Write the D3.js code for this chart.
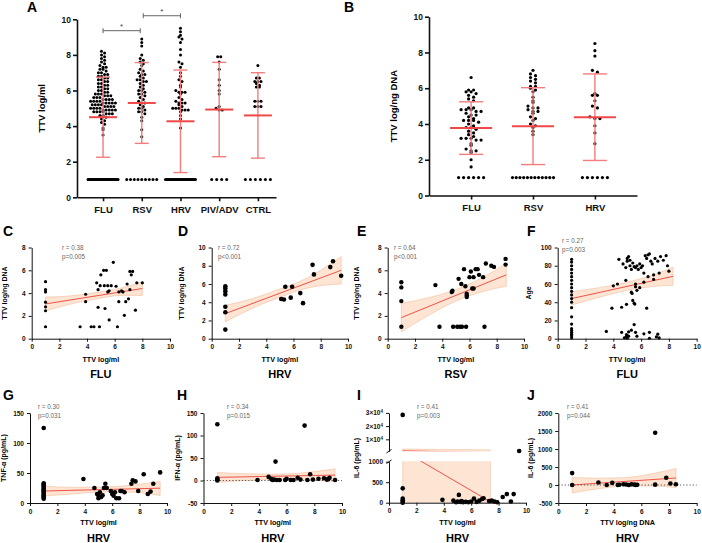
<!DOCTYPE html>
<html>
<head>
<meta charset="utf-8">
<script src="https://cdn.jsdelivr.net/npm/d3@7"></script>
<style>
body { margin: 0; background: #fff; }
svg { font-family: 'Liberation Sans', Arial, sans-serif; }
</style>
</head>
<body>
<div id="chart"></div>
<script>
// ---------- A: TTV log/ml by group ----------
var catsA = ['FLU', 'RSV', 'HRV', 'PIV/ADV', 'CTRL'];
var fluA = [8.2, 8.1, 8.0, 7.9, 7.8, 7.7, 7.6, 7.5, 7.4, 7.3, 7.3, 7.2, 7.2, 7.1, 7.0, 7.0, 6.9, 6.9, 6.8, 6.8, 6.7, 6.7, 6.6, 6.6, 6.5, 6.5, 6.4, 6.4, 6.3, 6.3, 6.2, 6.2, 6.1, 6.1, 6.0, 6.0, 5.9, 5.9, 5.8, 5.8, 5.8, 5.7, 5.7, 5.7, 5.6, 5.6, 5.6, 5.5, 5.5, 5.5, 5.5, 5.4, 5.4, 5.4, 5.4, 5.3, 5.3, 5.3, 5.3, 5.3, 5.2, 5.2, 5.2, 5.2, 5.1, 5.1, 5.1, 5.1, 5.0, 5.0, 5.0, 5.0, 4.9, 4.9, 4.9, 4.9, 4.9, 4.8, 4.8, 4.8, 4.8, 4.7, 4.7, 4.7, 4.6, 4.6, 4.5, 4.4, 4.3, 4.2, 4.1, 3.9, 3.8, 3.5];
var rsvA = [8.9, 8.7, 8.5, 8.0, 7.8, 7.7, 7.6, 7.5, 7.4, 7.2, 7.1, 7.0, 6.9, 6.9, 6.8, 6.7, 6.6, 6.6, 6.5, 6.5, 6.4, 6.3, 6.2, 6.1, 6.0, 6.0, 5.9, 5.8, 5.8, 5.7, 5.6, 5.5, 5.4, 5.3, 5.3, 5.2, 5.1, 5.0, 5.0, 4.9, 4.8, 4.8, 4.7, 4.5, 4.3, 3.8, 3.4];
var hrvA = [9.5, 9.3, 9.1, 9.0, 8.9, 8.7, 8.3, 8.0, 7.6, 7.5, 7.3, 7.0, 6.8, 6.6, 6.5, 6.3, 6.2, 6.0, 5.9, 5.9, 5.9, 5.8, 5.6, 5.5, 5.4, 5.3, 5.3, 5.3, 5.2, 5.1, 5.0, 5.0, 5.0, 4.9, 4.9, 4.9, 4.8, 4.6, 4.4, 3.9];
var pivA = [7.9, 7.9, 7.6, 7.2, 6.6, 6.3, 6.0, 5.8, 5.1, 5.0, 4.9, 4.9];
var ctrlA = [7.4, 6.7, 6.7, 6.5, 6.5, 6.5, 6.4, 6.3, 6.2, 6.2, 5.4, 5.4, 5.4, 5.1, 5.1, 5.1];
// number of samples at the detection floor (plotted at 1)
var lodA = [40, 9, 30, 4, 6];
var meanA = [4.5, 5.3, 4.27, 4.93, 4.6];
var sdA = [2.25, 2.27, 2.88, 2.65, 2.4];
var sigA = [['FLU', 'RSV', 9.36], ['RSV', 'HRV', 10.2]];

// ---------- B: TTV log/ng DNA by group ----------
var catsB = ['FLU', 'RSV', 'HRV'];
var fluB = [6.6, 5.9, 5.9, 5.8, 5.8, 5.7, 5.6, 5.5, 5.4, 5.3, 4.9, 4.9, 4.8, 4.8, 4.8, 4.7, 4.7, 4.6, 4.5, 4.5, 4.4, 4.3, 4.2, 4.2, 4.2, 4.1, 4.0, 3.9, 3.8, 3.8, 3.7, 3.6, 3.5, 3.4, 3.3, 3.2, 3.2, 3.2, 3.1, 3.1, 2.9, 2.8, 2.6, 2.5, 2.5, 2.4, 2.0, 1.6];
var rsvB = [7.0, 6.8, 6.7, 6.6, 6.5, 6.4, 6.3, 6.1, 6.1, 6.0, 5.9, 5.8, 5.5, 5.3, 5.2, 5.0, 4.9, 4.9, 4.8, 4.7, 4.7, 4.6, 4.4, 4.3, 4.2, 4.0, 3.9, 3.8, 3.6, 3.4];
var hrvB = [8.5, 8.1, 7.8, 7.0, 6.9, 5.7, 5.6, 5.6, 5.3, 5.0, 4.9, 4.4, 4.3, 4.3, 3.9, 3.5, 2.9];
var lodB = [6, 12, 6];
var meanB = [3.77, 3.88, 4.38];
var sdB = [1.47, 2.15, 2.42];

// ---------- C-J: correlations [x, y] ----------
var ptsC = [[1, 5.0], [1, 4.3], [1, 4.1], [1, 3.2], [1, 2.8], [1, 2.45], [1, 1.05], [3.5, 1.05], [3.9, 3.25], [3.9, 3.9], [4.3, 1.05], [4.5, 1.05], [4.7, 4.9], [4.8, 2.75], [4.8, 4.3], [4.9, 1.05], [5.0, 5.6], [4.95, 4.65], [5.2, 6.0], [5.25, 4.65], [5.3, 2.65], [5.4, 6.0], [5.5, 4.65], [5.5, 4.1], [5.6, 1.65], [5.6, 4.2], [5.75, 4.65], [5.9, 6.7], [6.2, 1.05], [6.1, 4.6], [6.3, 3.25], [6.3, 4.1], [6.5, 4.2], [6.6, 4.1], [6.7, 2.05], [6.8, 3.25], [6.9, 4.8], [7.0, 3.5], [7.1, 5.9], [7.3, 5.9], [7.2, 5.6], [7.1, 4.3], [7.5, 2.5], [7.6, 4.9], [8.0, 4.9]];
var fitC = [[1, 3.05], [8, 4.4]];
var bandC = [[1, 2.45, 3.65], [2.5, 2.95, 3.72], [4.5, 3.45, 4.02], [6.5, 3.8, 4.45], [8, 3.8, 5.0]];

var ptsD = [[1, 5.75], [1, 5.5], [1, 5.2], [1, 4.85], [1, 3.5], [1, 2.9], [1, 1.0], [5.1, 4.35], [5.3, 4.3], [5.4, 5.7], [5.8, 4.5], [5.9, 5.7], [6.5, 5.0], [6.7, 3.9], [7.4, 8.1], [7.5, 7.05], [8.7, 7.85], [8.9, 8.5], [9.5, 6.9]];
var fitD = [[1, 2.75], [9.5, 7.5]];
var bandD = [[1, 1.85, 3.65], [3, 3.35, 4.4], [5, 4.55, 5.45], [7, 5.55, 6.65], [9.5, 6.0, 9.0]];

var ptsE = [[1, 4.95], [1, 4.5], [1, 3.3], [1, 1.05], [3.5, 4.7], [3.8, 1.05], [4.7, 4.1], [4.75, 4.2], [4.8, 1.05], [5.1, 1.05], [5.2, 5.25], [5.3, 1.05], [5.4, 4.8], [5.45, 1.05], [5.6, 6.1], [5.7, 4.6], [5.75, 1.05], [5.8, 3.65], [5.8, 3.8], [5.8, 3.95], [6.0, 5.4], [6.1, 5.9], [6.2, 4.4], [6.3, 4.4], [6.3, 5.4], [6.45, 6.1], [6.6, 6.1], [6.7, 5.6], [7.0, 5.4], [7.1, 1.05], [7.2, 6.6], [7.6, 6.4], [7.8, 6.3], [8.65, 7.0], [8.65, 6.5]];
var fitE = [[1, 1.85], [8.7, 5.6]];
var bandE = [[1, 0.6, 3.1], [3, 2.05, 3.6], [5, 3.3, 4.3], [7, 4.15, 5.4], [8.7, 4.6, 6.6]];

var ptsF = [[1, 87], [1, 84], [1, 80], [1, 76], [1, 72], [1, 68], [1, 64], [1, 60], [1, 56], [1, 52], [1, 48], [1, 44], [1, 40], [1, 34], [1, 24], [1, 16], [1, 11], [1, 9], [1, 7], [1, 5], [1, 3], [1, 1],
	[4.4, 87], [4.0, 58], [4.3, 60], [4.7, 82], [4.9, 78], [5.0, 85], [5.0, 88], [5.1, 90], [5.2, 86], [5.2, 80], [5.3, 76], [5.4, 83], [5.5, 79], [5.6, 78], [5.7, 80], [5.8, 76], [5.9, 82], [6.0, 78], [6.1, 80], [6.3, 91], [6.4, 88], [6.5, 92], [6.6, 93], [6.7, 85], [6.8, 82], [6.9, 70], [7.0, 88], [7.2, 85], [7.4, 90], [7.6, 86], [7.8, 91], [7.9, 80], [8.0, 74], [6.2, 72], [6.5, 68], [6.9, 65], [7.3, 72], [5.6, 60], [5.6, 57], [5.7, 53], [6.2, 62], [5.9, 56], [4.9, 64],
	[3.9, 33.5], [4.6, 34.5], [4.95, 37.7], [5.4, 42], [5.5, 39], [5.55, 38], [6.4, 33.5], [5.3, 51], [5.35, 49.6], [3.5, 8], [4.6, 7], [4.95, 4.6], [4.95, 2.8], [5.1, 2.8], [5.1, 7.5], [5.3, 9.3], [5.5, 15.5], [5.6, 7], [5.7, 2.8], [6.2, 5.3], [6.6, 7], [6.6, 0.5], [7.1, 2], [7.2, 5], [7.3, 1], [4.8, 1], [5.0, 0.5]];
var fitF = [[1, 44], [8.3, 68.4]];
var bandF = [[1, 37, 51.5], [3, 45.5, 56], [5, 53, 62], [7, 57.5, 70.5], [8.3, 58.5, 78.5]];

var ptsG = [[1, 125], [1, 33], [1, 31], [1, 29], [1, 27], [1, 25], [1, 23], [1, 21], [1, 19], [1, 17], [1, 15], [1, 13], [1, 11], [1, 9], [1, 7], [3.9, 40], [4.7, 25], [4.9, 15], [5.0, 8], [5.0, 12], [5.1, 18], [5.2, 10], [5.3, 13], [5.4, 25], [5.5, 32], [5.6, 25], [5.9, 20], [6.0, 15], [6.1, 12], [6.2, 18], [6.3, 8], [6.5, 8], [6.6, 20], [6.7, 20], [6.9, 18], [7.4, 32], [7.5, 38], [7.7, 36], [7.9, 20], [8.3, 48], [8.6, 15], [8.8, 19], [9.0, 32], [9.5, 51]];
var fitG = [[1, 20], [9.5, 24.7]];
var bandG = [[1, 11.5, 28.5], [3, 15, 26], [5.5, 18.5, 26.5], [7.5, 18, 30], [9.5, 12.5, 36]];

var ptsH = [[1, 125], [1, 5], [1, 2], [1, 0], [3.9, 1], [4.7, 8], [4.9, 3], [5.0, 1], [5.1, 2], [5.2, 42], [5.3, 1], [5.5, 1], [5.9, 1], [6.0, 4], [6.3, 1], [6.5, 1], [6.8, 6], [7.0, 2], [7.3, 122], [7.5, 1], [7.7, 14], [7.9, 2], [8.3, 4], [8.7, 5], [8.9, 2], [9.0, 3], [9.1, 6], [9.5, 1]];
var fitH = [[1, 7], [9.5, 12]];
var bandH = [[1, -4, 18], [3, 0, 15], [5.5, 3, 14], [7.5, 1, 18], [9.5, -2, 26]];

var ptsI = [[1, 28500], [1, 350], [1, 100], [1, 60], [1, 20], [1, 0], [3.9, 70], [4.7, 50], [4.9, 10], [5.0, 30], [5.1, 190], [5.2, 20], [5.3, 40], [5.4, 10], [5.6, 20], [5.8, 10], [6.0, 30], [6.2, 100], [6.4, 20], [6.6, 50], [6.8, 90], [6.9, 110], [7.3, 40], [7.5, 50], [7.7, 30], [7.9, 10], [8.3, 140], [8.6, 210], [8.9, 30], [9.1, 210], [9.5, 1150]];
var fitI = [[1, 1274], [7.4, 22]];
var bandI = [[1, -700, 2600], [7.4, -2000, 2000]];

var ptsJ = [[1, 330], [1, 0], [2.9, 70], [3.5, 0], [3.9, 60], [4.3, 0], [4.4, 5], [4.7, 20], [4.9, 15], [5.1, 0], [5.3, 20], [5.5, 10], [5.6, 0], [5.7, 5], [7.0, 1450], [7.0, 10], [7.8, 200], [8.1, 40], [8.5, 20]];
var fitJ = [[1, 0], [8.5, 195]];
var bandJ = [[1, -220, 210], [3, -100, 190], [5, -20, 210], [7, -30, 330], [8.5, -70, 460]];

var statText = {
	C: ['r = 0.38', 'p=0.005'], D: ['r = 0.72', 'p<0.001'], E: ['r = 0.64', 'p<0.001'], F: ['r = 0.27', 'p=0.003'],
	G: ['r = 0.30', 'p=0.031'], H: ['r = 0.34', 'p=0.015'], I: ['r = 0.41', 'p=0.003'], J: ['r = 0.41', 'p=0.044']
};

var red = '#f04848',
	redLight = '#f37d7d',
	bandFill = '#fde4d3',
	bandEdge = '#f2bd9c',
	lineRed = '#ef5349';

var svg = d3.select('#chart').append('svg')
	.attr('width', 702)
	.attr('height', 543);

function swarm(values, spacing, maxWidth) {
	let bins = d3.group(values, v => Math.round(v * 5));
	let out = [];
	bins.forEach(arr => {
		let n = arr.length;
		let step = n > 1 ? Math.min(spacing, maxWidth / (n - 1)) : 0;
		arr.forEach((v, i) => {
			out.push({ v: v, dx: (i - (n - 1) / 2) * step });
		});
	});
	return out;
}

function styleAxis(sel, size, width) {
	sel.attr('font-family', null).attr('font-size', null);
	sel.selectAll('path, line').attr('stroke', '#111').attr('stroke-width', width);
	sel.selectAll('text')
		.attr('fill', '#111')
		.style('font-size', size + 'px')
		.style('font-weight', 'bold');
}

function drawDotPlot(cfg) {
	let g = svg.append('g');
	let x = d3.scalePoint()
		.domain(cfg.cats)
		.range(cfg.xRange)
		.padding(cfg.pad)
		.align(cfg.align);
	let y = d3.scaleLinear().domain([0, 10]).range(cfg.yRange);

	cfg.cats.forEach((c, i) => {
		let pts = swarm(cfg.values[i], cfg.spacing, cfg.maxWidth);
		let floor = d3.range(cfg.lod[i]).map(() => 1);
		pts = pts.concat(swarm(floor, cfg.lodSpacing, cfg.lodWidth));
		g.append('g')
			.selectAll('circle')
			.data(pts)
			.enter()
			.append('circle')
			.attr('cx', d => x(c) + d.dx)
			.attr('cy', d => y(d.v))
			.attr('r', cfg.r)
			.attr('fill', '#000');
	});

	// mean +- SD
	let bars = g.append('g');
	cfg.cats.forEach((c, i) => {
		let lo = cfg.mean[i] - cfg.sd[i],
			hi = cfg.mean[i] + cfg.sd[i];
		bars.append('line')
			.attr('x1', x(c)).attr('x2', x(c))
			.attr('y1', y(lo)).attr('y2', y(hi))
			.attr('stroke', redLight).attr('stroke-width', 1.4);
		[lo, hi].forEach(v => {
			bars.append('line')
				.attr('x1', x(c) - cfg.capHalf).attr('x2', x(c) + cfg.capHalf)
				.attr('y1', y(v)).attr('y2', y(v))
				.attr('stroke', redLight).attr('stroke-width', 1.4);
		});
		bars.append('line')
			.attr('x1', x(c) - cfg.meanHalf).attr('x2', x(c) + cfg.meanHalf)
			.attr('y1', y(cfg.mean[i])).attr('y2', y(cfg.mean[i]))
			.attr('stroke', red).attr('stroke-width', 2);
	});

	let ya = g.append('g')
		.attr('transform', 'translate(' + cfg.xRange[0] + ',0)')
		.call(d3.axisLeft(y).tickValues([0, 2, 4, 6, 8, 10]).tickFormat(String).tickSize(4).tickPadding(2).tickSizeOuter(0));
	styleAxis(ya, 8.5, 1.6);
	let xa = g.append('g')
		.attr('transform', 'translate(0,' + cfg.yRange[0] + ')')
		.call(d3.axisBottom(x).tickSize(4).tickPadding(4.5).tickSizeOuter(0));
	styleAxis(xa, 9.5, 1.6);

	g.append('text')
		.attr('transform', 'translate(' + cfg.titleX + ',' + ((cfg.yRange[0] + cfg.yRange[1]) / 2) + ') rotate(-90)')
		.attr('text-anchor', 'middle')
		.style('font-size', '9.5px')
		.style('font-weight', 'bold')
		.text(cfg.title);
	g.append('text')
		.attr('x', cfg.letterX).attr('y', 12)
		.style('font-size', '14px')
		.style('font-weight', 'bold')
		.text(cfg.letter);

	(cfg.sig || []).forEach((s, k) => {
		let x1 = x(s[0]) + (k ? 1.5 : 0),
			x2 = x(s[1]) - (k ? 0 : 1.5),
			yy = y(s[2]);
		g.append('path')
			.attr('d', 'M' + x1 + ',' + (yy - 2.5) + 'V' + (yy + 2.5) + 'M' + x1 + ',' + yy + 'H' + x2 + 'M' + x2 + ',' + (yy - 2.5) + 'V' + (yy + 2.5))
			.attr('stroke', '#555').attr('stroke-width', 0.9).attr('fill', 'none');
		g.append('text')
			.attr('x', (x1 + x2) / 2).attr('y', yy - 1.5)
			.attr('text-anchor', 'middle')
			.style('font-size', '8px')
			.attr('fill', '#444')
			.text('*');
	});
}

function drawScatter(p) {
	let g = svg.append('g');
	let x = d3.scaleLinear().domain([0, 10]).range([p.x0, p.x1]);
	let y = d3.scaleLinear().domain(p.yDomain).range([p.yBottom, p.yTop]);
	let segs = [{ scale: y, top: p.yTop, bottom: p.yBottom, ticks: p.yTicks }];
	if (p.upper) {
		let y2 = d3.scaleLinear().domain(p.upper.domain).range(p.upper.range);
		segs.push({ scale: y2, top: p.upper.range[1], bottom: p.upper.range[0], ticks: p.upper.ticks });
	}
	let yOf = v => (p.upper && v > p.yDomain[1]) ? segs[1].scale(v) : y(v);

	segs.forEach((s, k) => {
		let clipId = 'clip' + p.id + k;
		svg.append('clipPath')
			.attr('id', clipId)
			.append('rect')
			.attr('x', p.x0).attr('y', s.top - 0.5)
			.attr('width', p.x1 - p.x0).attr('height', s.bottom - s.top + 0.5);
		let area = d3.area()
			.x(d => x(d[0]))
			.y0(d => s.scale(d[1]))
			.y1(d => s.scale(d[2]))
			.curve(d3.curveMonotoneX);
		let cg = g.append('g').attr('clip-path', 'url(#' + clipId + ')');
		cg.append('path')
			.datum(p.band)
			.attr('d', area)
			.attr('fill', bandFill)
			.attr('stroke', bandEdge)
			.attr('stroke-width', 0.6);
		cg.append('path')
			.datum(p.fit)
			.attr('d', d3.line().x(d => x(d[0])).y(d => s.scale(d[1])))
			.attr('fill', 'none')
			.attr('stroke', lineRed)
			.attr('stroke-width', 1);
	});

	if (p.zero) {
		g.append('line')
			.attr('x1', p.x0).attr('x2', p.x1)
			.attr('y1', y(0)).attr('y2', y(0))
			.attr('stroke', '#444')
			.attr('stroke-width', 0.9)
			.attr('stroke-dasharray', '1.2,2');
	}

	g.append('g')
		.selectAll('circle')
		.data(p.pts)
		.enter()
		.append('circle')
		.attr('cx', d => x(d[0]))
		.attr('cy', d => yOf(d[1]))
		.attr('r', p.r)
		.attr('fill', '#000');

	let xa = g.append('g')
		.attr('transform', 'translate(0,' + p.yBottom + ')')
		.call(d3.axisBottom(x).tickValues([0, 2, 4, 6, 8, 10]).tickFormat(String).tickSize(3).tickSizeOuter(0));
	styleAxis(xa, 6.5, 1);

	segs.forEach((s, k) => {
		let ya = g.append('g')
			.attr('transform', 'translate(' + p.x0 + ',0)')
			.call(d3.axisLeft(s.scale).tickValues(s.ticks).tickFormat(String).tickSize(3).tickSizeOuter(0));
		styleAxis(ya, 6.5, 1);
		if (k == 1) {
			ya.selectAll('.tick text').each(function(d) {
				let t = d3.select(this);
				t.text(d / 1e4 + '×10');
				t.append('tspan').attr('dy', '-0.45em').style('font-size', '4.5px').text('4');
			});
		}
	});
	if (p.upper) {
		[p.yTop, p.upper.range[0]].forEach(yy => {
			g.append('line')
				.attr('x1', p.x0 - 2.5).attr('x2', p.x0 + 2.5)
				.attr('y1', yy + 1.8).attr('y2', yy - 1.8)
				.attr('stroke', '#111').attr('stroke-width', 1);
		});
	}

	g.append('text')
		.attr('transform', 'translate(' + p.titleX + ',' + p.titleY + ') rotate(-90)')
		.attr('text-anchor', 'middle')
		.style('font-size', '7px')
		.style('font-weight', 'bold')
		.text(p.yTitle);
	g.append('text')
		.attr('x', (p.x0 + p.x1) / 2).attr('y', p.xTitleY)
		.attr('text-anchor', 'middle')
		.style('font-size', '7.2px')
		.style('font-weight', 'bold')
		.text(p.xTitle);
	g.append('text')
		.attr('x', (p.x0 + p.x1) / 2).attr('y', p.groupY)
		.attr('text-anchor', 'middle')
		.style('font-size', '11px')
		.style('font-weight', 'bold')
		.text(p.group);
	g.append('text')
		.attr('x', p.letterX).attr('y', p.letterY)
		.style('font-size', '14px')
		.style('font-weight', 'bold')
		.text(p.id);
	g.selectAll('.stat')
		.data(statText[p.id])
		.enter()
		.append('text')
		.attr('x', p.statX)
		.attr('y', (d, i) => p.statY + i * 9)
		.style('font-size', '6.3px')
		.attr('fill', '#666')
		.text(String);
}

drawDotPlot({
	cats: catsA, values: [fluA, rsvA, hrvA, pivA, ctrlA], lod: lodA, mean: meanA, sd: sdA, sig: sigA,
	xRange: [77, 276], pad: 0.57, align: 0.59, yRange: [197.3, 19.3],
	r: 1.5, spacing: 3.1, maxWidth: 28, lodSpacing: 5, lodWidth: 30, meanHalf: 14, capHalf: 7,
	title: 'TTV log/ml', titleX: 45, letter: 'A', letterX: 27
});
drawDotPlot({
	cats: catsB, values: [fluB, rsvB, hrvB], lod: lodB, mean: meanB, sd: sdB,
	xRange: [429, 637], pad: 0.68, align: 0.5, yRange: [195.5, 16.7],
	r: 1.6, spacing: 5, maxWidth: 32, lodSpacing: 5, lodWidth: 41, meanHalf: 21, capHalf: 12,
	title: 'TTV log/ng DNA', titleX: 397, letter: 'B', letterX: 344
});

var row2 = { yBottom: 338.7, yTop: 247.5, letterY: 236, statY: 249.5, titleY: 293, xTitleY: 362, groupY: 377.5 };
var row3 = { yBottom: 503, yTop: 413, letterY: 400, statY: 409, titleY: 458, xTitleY: 524.5, groupY: 541.5 };

var panels = [
	Object.assign({}, row2, { id: 'C', pts: ptsC, fit: fitC, band: bandC, yDomain: [0, 8], yTicks: [0, 2, 4, 6, 8], yTitle: 'TTV log/ng DNA', xTitle: 'TTV log/ml', group: 'FLU', x0: 31.7, x1: 170, r: 1.6, letterX: 3, statX: 62, titleX: 7 }),
	Object.assign({}, row2, { id: 'D', pts: ptsD, fit: fitD, band: bandD, yDomain: [0, 10], yTicks: [0, 2, 4, 6, 8, 10], yTitle: 'TTV log/ng DNA', xTitle: 'TTV log/ml', group: 'HRV', x0: 211.7, x1: 348, r: 2.3, letterX: 178, statX: 218, titleX: 184 }),
	Object.assign({}, row2, { id: 'E', pts: ptsE, fit: fitE, band: bandE, yDomain: [0, 8], yTicks: [0, 2, 4, 6, 8], yTitle: 'TTV log/ng DNA', xTitle: 'TTV log/ml', group: 'RSV', x0: 387.7, x1: 524, r: 2.2, letterX: 357, statX: 394, titleX: 359 }),
	Object.assign({}, row2, { id: 'F', pts: ptsF, fit: fitF, band: bandF, yDomain: [0, 100], yTicks: [0, 20, 40, 60, 80, 100], yTitle: 'Age', xTitle: 'TTV log/ml', group: 'FLU', x0: 557.7, x1: 696.7, r: 1.6, letterX: 527, statX: 562, statY: 242.5, titleX: 531 }),
	Object.assign({}, row3, { id: 'G', pts: ptsG, fit: fitG, band: bandG, yDomain: [0, 150], yTicks: [0, 50, 100, 150], yTitle: 'TNF-α (pg/mL)', xTitle: 'TTV log/ml', group: 'HRV', x0: 30, x1: 167, r: 2.3, letterX: 3, statX: 38, titleX: 6 }),
	Object.assign({}, row3, { id: 'H', pts: ptsH, fit: fitH, band: bandH, yDomain: [-50, 150], yTicks: [-50, 0, 50, 100, 150], yTitle: 'IFN-α (pg/mL)', xTitle: 'TTV log/ml', group: 'HRV', x0: 203.5, x1: 342, r: 2.3, letterX: 177, statX: 227, titleX: 180, zero: true }),
	Object.assign({}, row3, { id: 'I', pts: ptsI, fit: fitI, band: bandI, yDomain: [0, 1000], yTicks: [0, 500, 1000], yTitle: 'IL-6 (pg/mL)', xTitle: 'TTV log/ml', group: 'HRV', x0: 389, x1: 526, yTop: 461.7, yBottom: 502.7, r: 2.3, letterX: 357, statX: 417, titleX: 359, upper: { domain: [1000, 30000], range: [451.2, 412.9], ticks: [10000, 20000, 30000] } }),
	Object.assign({}, row3, { id: 'J', pts: ptsJ, fit: fitJ, band: bandJ, yDomain: [-500, 2000], yTicks: [-500, 0, 500, 1000, 1500, 2000], yTitle: 'IL-6 (pg/mL)', xTitle: 'TTV log/ng DNA', group: 'HRV', x0: 558.3, x1: 696.7, r: 2.3, letterX: 527, statX: 567, titleX: 533, zero: true })
];

panels.forEach(drawScatter);
</script>
</body>
</html>
